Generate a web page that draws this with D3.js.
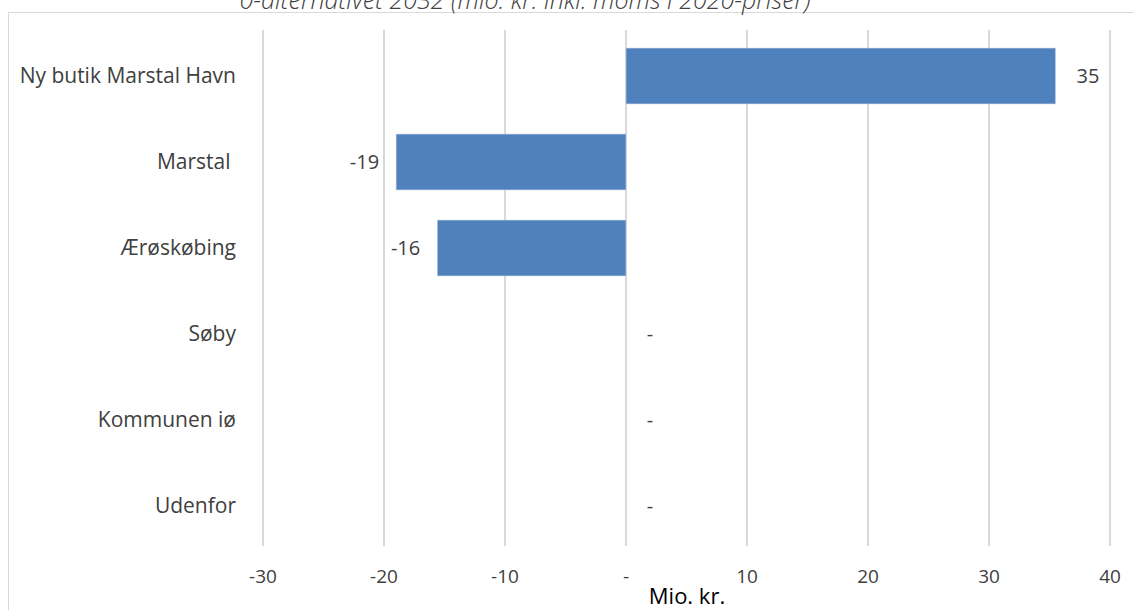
<!DOCTYPE html>
<html><head><meta charset="utf-8">
<script src="https://cdn.jsdelivr.net/npm/d3@7"></script>
<style>body{margin:0;background:#fff}svg{display:block}</style>
</head><body>
<svg id="c" width="1134" height="610"></svg>
<script>
const categories = ["Ny butik Marstal Havn", "Marstal ", "Ærøskøbing", "Søby", "Kommunen iø", "Udenfor"];
const values = [35.5, -19.0, -15.6, 0, 0, 0];
const valueLabels = ["35", "-19", "-16", "-", "-", "-"];
const xTicks = [-30, -20, -10, 0, 10, 20, 30, 40];
const xTickLabels = ["-30", "-20", "-10", "-", "10", "20", "30", "40"];
const title = "0-alternativet 2032 (mio. kr. inkl. moms i 2020-priser)";
const xTitle = "Mio. kr.";

const svg = d3.select("#c");
const font = "'Open Sans', sans-serif";
const txt = "#404040";

svg.append("rect").attr("x", 8.5).attr("y", 12.5).attr("width", 1140).attr("height", 620)
  .attr("fill", "#fff").attr("stroke", "#d9d9d9").attr("stroke-width", 1);

svg.append("text").attr("x", 525).attr("y", 9).attr("text-anchor", "middle")
  .attr("font-family", font).attr("font-style", "italic").attr("font-weight", 300)
  .attr("font-size", 25).attr("fill", txt).text(title);

const x = d3.scaleLinear().domain([-30, 40]).range([263, 1110]);
const y = d3.scaleBand().domain(categories).range([33, 549]).paddingInner(0.35).paddingOuter(0.175);

const grid = svg.append("g");
grid.selectAll("line").data(xTicks).join("line")
  .attr("x1", d => x(d)).attr("x2", d => x(d)).attr("y1", 30).attr("y2", 546)
  .attr("stroke", "#d9d9d9").attr("stroke-width", 2);

svg.append("g").selectAll("rect").data(categories).join("rect")
  .attr("x", (d, i) => x(Math.min(0, values[i])))
  .attr("width", (d, i) => Math.abs(x(values[i]) - x(0)))
  .attr("y", d => y(d)).attr("height", y.bandwidth())
  .attr("fill", "#4f81bd").attr("stroke", "#c7d4e6").attr("stroke-width", 0.6);

// category labels
svg.append("g").selectAll("text").data(categories).join("text")
  .attr("x", 236).attr("y", d => y(d) + y.bandwidth() / 2)
  .attr("dy", "0.35em").attr("text-anchor", "end")
  .attr("font-family", font).attr("font-size", 21).attr("fill", txt)
  .attr("xml:space", "preserve").style("white-space", "pre")
  .text(d => d);

// value labels
svg.append("g").selectAll("text").data(categories).join("text")
  .attr("x", (d, i) => values[i] > 0 ? x(values[i]) + 21 : values[i] < 0 ? x(values[i]) - 17 : x(0) + 24)
  .attr("y", d => y(d) + y.bandwidth() / 2)
  .attr("dy", "0.35em")
  .attr("text-anchor", (d, i) => values[i] > 0 ? "start" : values[i] < 0 ? "end" : "middle")
  .attr("font-family", font).attr("font-size", 20).attr("fill", txt)
  .text((d, i) => valueLabels[i]);

// x tick labels
svg.append("g").selectAll("text").data(xTicks).join("text")
  .attr("x", d => x(d)).attr("y", 583).attr("text-anchor", "middle")
  .attr("font-family", font).attr("font-size", 19).attr("fill", txt)
  .text((d, i) => xTickLabels[i]);

svg.append("text").attr("x", 687).attr("y", 604).attr("text-anchor", "middle")
  .attr("font-family", font).attr("font-size", 22).attr("fill", "#000").text(xTitle);
</script>
</body></html>
